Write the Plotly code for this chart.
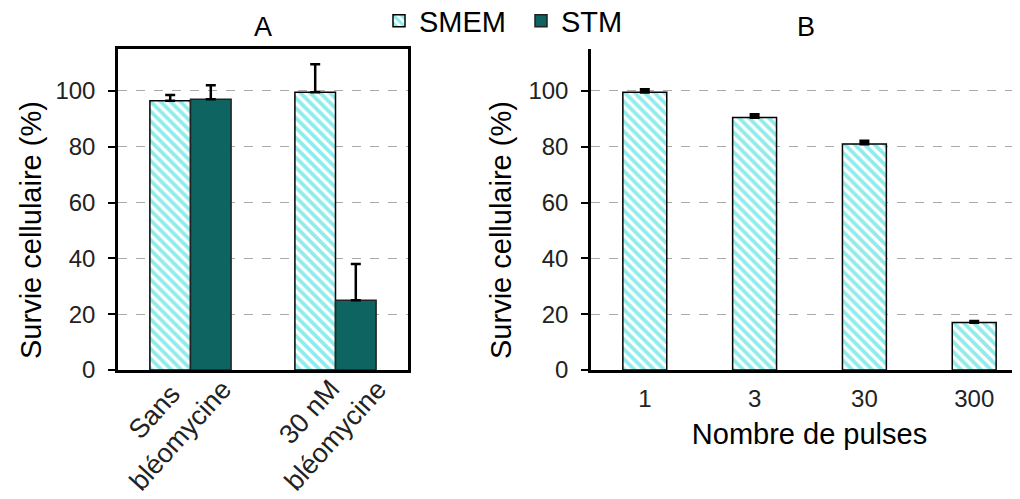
import plotly.graph_objects as go

FONT = "Liberation Sans, Arial, sans-serif"

# Panel A data
cat_a = ["Sans<br>bléomycine", "30 nM<br>bléomycine"]
smem_a = [96.5, 99.5]
smem_a_err = [2, 10]
stm_a = [97, 25]
stm_a_err = [5, 13]

# Panel B data
cat_b = ["1", "3", "30", "300"]
smem_b = [99.5, 90.5, 81, 17]
smem_b_err = [1, 1, 1, 0.5]

Y_TITLE = "Survie cellulaire (%)"
X2_TITLE = "Nombre de pulses"

CYAN = "#22dada"
TEAL = "#0e6460"

# page body margin compensation
OX, OY = 8, 8
W, H = 1020, 499

def px(x):
    return (x - OX) / W

def py(y):
    return 1 - (y - OY) / H

fig = go.Figure()
fig.add_trace(go.Bar(
    x=cat_a, y=smem_a, name="SMEM", xaxis="x", yaxis="y",
    width=0.28, offset=-0.28,
    marker=dict(color="white", line=dict(color="black", width=1.5),
                pattern=dict(shape="\\", fgcolor=CYAN, bgcolor="white", size=7, solidity=0.55)),
    error_y=dict(type="data", array=smem_a_err, arrayminus=[0, 0], color="black", thickness=2.5, width=5),
    legendgroup="smem"))
fig.add_trace(go.Bar(
    x=cat_a, y=stm_a, name="STM", xaxis="x", yaxis="y",
    width=0.28, offset=0,
    marker=dict(color=TEAL, line=dict(color="#222", width=1.5)),
    error_y=dict(type="data", array=stm_a_err, arrayminus=[0, 0], color="black", thickness=2.5, width=5),
    legendgroup="stm"))
fig.add_trace(go.Bar(
    x=cat_b, y=smem_b, name="SMEM", xaxis="x2", yaxis="y2",
    width=0.4, showlegend=False,
    marker=dict(color="white", line=dict(color="black", width=1.5),
                pattern=dict(shape="\\", fgcolor=CYAN, bgcolor="white", size=7, solidity=0.55)),
    error_y=dict(type="data", array=smem_b_err, arrayminus=[0, 0, 0, 0], color="black", thickness=3, width=5),
    legendgroup="smem"))

ydom = [py(370), py(49)]
yax_common = dict(range=[0, 115], tickvals=[0, 20, 40, 60, 80, 100],
                  showline=True, linecolor="black", linewidth=2.5, automargin=False,
                  ticks="outside", ticklen=7, tickwidth=2, tickcolor="black",
                  ticklabelstandoff=8,
                  showgrid=True, gridcolor="#aaaaaa", griddash="dash", gridwidth=1,
                  zeroline=False, tickfont=dict(size=24, color="#222"))

# rotated category labels of panel A (drawn as annotations for exact placement)
label_shift = [-23, -13]
cat_annots = [
    dict(text=c, x=c, xref="x", y=py(348), yref="paper", xanchor="center", yanchor="top",
         xshift=s, textangle=-48, align="center", showarrow=False,
         font=dict(size=27, color="#222"))
    for c, s in zip(cat_a, label_shift)
]

# y-axis titles (annotations so that they can sit slightly below the axis centre, as in the original)
ytitle_annots = [
    dict(text=Y_TITLE, x=px(xc), y=py(230), xref="paper", yref="paper", xanchor="center",
         yanchor="middle", textangle=-90, showarrow=False, font=dict(size=29, color="black"))
    for xc in (31, 501)
]

fig.update_layout(
    width=W, height=H,
    margin=dict(l=0, r=0, t=0, b=0, autoexpand=False),
    paper_bgcolor="white", plot_bgcolor="white",
    font=dict(family=FONT, color="black"),
    barmode="overlay",
    showlegend=True,
    legend=dict(orientation="h", x=px(379), y=py(21), xanchor="left", yanchor="middle",
                font=dict(size=29, color="black"), itemwidth=30, tracegroupgap=0,
                entrywidth=97, entrywidthmode="pixels",
                bgcolor="rgba(0,0,0,0)"),
    xaxis=dict(domain=[px(118), px(408)], anchor="y", range=[-0.5, 1.5], automargin=False,
               showline=True, mirror=True, linecolor="black", linewidth=2.5,
               ticks="", showticklabels=False),
    yaxis=dict(domain=ydom, anchor="x", mirror=True, **yax_common),
    xaxis2=dict(domain=[px(591), px(1028)], anchor="y2", range=[-0.49, 3.49], automargin=False,
                showline=True, linecolor="black", linewidth=2.5, ticks="",
                ticklabelstandoff=5,
                tickfont=dict(size=24, color="#222"),
                title=dict(text=X2_TITLE, font=dict(size=29, color="black"), standoff=14)),
    yaxis2=dict(domain=ydom, anchor="x2", **yax_common),
    annotations=[
        dict(text="A", x=px(263), y=py(27), xref="paper", yref="paper", xanchor="center",
             yanchor="middle", showarrow=False, font=dict(size=27, color="black")),
        dict(text="B", x=px(806), y=py(27), xref="paper", yref="paper", xanchor="center",
             yanchor="middle", showarrow=False, font=dict(size=27, color="black")),
    ] + cat_annots + ytitle_annots,
)

fig.write_html("out.html")
